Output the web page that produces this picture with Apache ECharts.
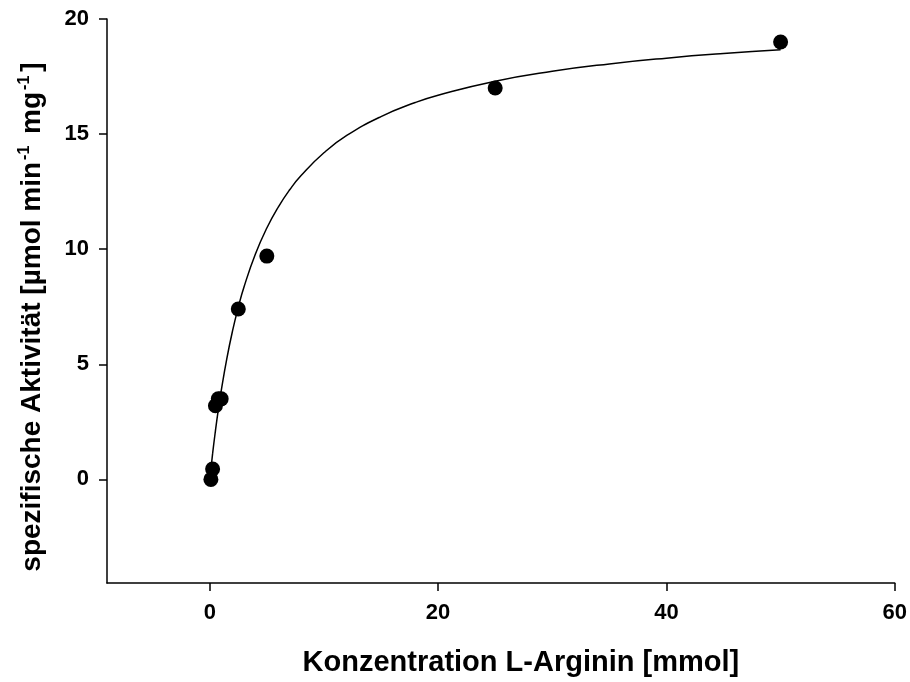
<!DOCTYPE html>
<html>
<head>
<meta charset="utf-8">
<script src="https://cdn.jsdelivr.net/npm/echarts@6/dist/echarts.min.js"></script>
<style>html,body{margin:0;padding:0;background:#fff}#c{width:910px;height:682px}</style>
</head>
<body>
<div id="c"></div>
<script>
// measured points: concentration (mmol) and specific activity
const concX = [0.1, 0.25, 0.5, 0.75, 1.0, 2.5, 5, 25, 50];
const activityY = [0.0, 0.45, 3.2, 3.5, 3.5, 7.4, 9.7, 17.0, 19.0];
// fitted curve
const curveX = [0, 0.25, 0.5, 0.75, 1, 1.5, 2, 2.5, 3, 4, 5, 6, 7, 8, 10, 12, 15, 18, 20, 25, 30, 35, 40, 45, 50];
const curveY = [0, 1.12, 2.12, 3.03, 3.84, 5.26, 6.46, 7.48, 8.36, 9.79, 10.92, 11.83, 12.58, 13.20, 14.19, 14.94, 15.76, 16.37, 16.69, 17.30, 17.73, 18.05, 18.30, 18.50, 18.66];
const xTicks = [0, 20, 40, 60];
const yTicks = [0, 5, 10, 15, 20];

const FONT = "'Liberation Sans', Arial, sans-serif";
const chart = echarts.init(document.getElementById('c'), null, {renderer: 'canvas'});
chart.setOption({
  animation: false,
  backgroundColor: '#fff',
  grid: {left: 107, right: 15, top: 19, bottom: 96, containLabel: false},
  xAxis: {
    type: 'value', min: -9, max: 60,
    axisLine: {onZero: false, lineStyle: {color: '#000', width: 1.5}},
    axisTick: {show: true, inside: false, length: 8, lineStyle: {color: '#000', width: 1.5}, customValues: xTicks},
    axisLabel: {customValues: xTicks, color: '#000', fontFamily: FONT, fontWeight: 'bold', fontSize: 22, margin: 19},
    splitLine: {show: false},
    name: 'Konzentration L-Arginin [mmol]',
    nameLocation: 'middle', nameGap: 65,
    nameTextStyle: {color: '#000', fontFamily: FONT, fontWeight: 'bold', fontSize: 29, padding: [0, 0, 0, 40]}
  },
  yAxis: {
    type: 'value', min: -4.5, max: 20,
    axisLine: {onZero: false, show: true, lineStyle: {color: '#000', width: 1.5}},
    axisTick: {show: true, inside: false, length: 8, lineStyle: {color: '#000', width: 1.5}, customValues: yTicks},
    axisLabel: {customValues: yTicks, color: '#000', fontFamily: FONT, fontWeight: 'bold', fontSize: 22, margin: 18},
    splitLine: {show: false},
    name: 'spezifische Aktivität [µmol min{sup|-1} mg{sup|-1}]',
    nameLocation: 'middle', nameGap: 60, nameRotate: 90,
    nameTextStyle: {color: '#000', fontFamily: FONT, fontWeight: 'bold', fontSize: 28, padding: [0, 0, 0, -32],
      rich: {sup: {fontFamily: FONT, fontWeight: 'bold', fontSize: 16, verticalAlign: 'top', padding: [0, 4, 14, 2], color: '#000'}}}
  },
  series: [
    {
      type: 'line', data: curveX.map((x, i) => [x, curveY[i]]),
      smooth: true, showSymbol: false, lineStyle: {color: '#000', width: 1.5}, z: 2
    },
    {
      type: 'scatter', data: concX.map((x, i) => [x, activityY[i]]),
      symbol: 'circle', symbolSize: 15, itemStyle: {color: '#000', opacity: 1}, z: 3
    }
  ]
});
</script>
</body>
</html>
